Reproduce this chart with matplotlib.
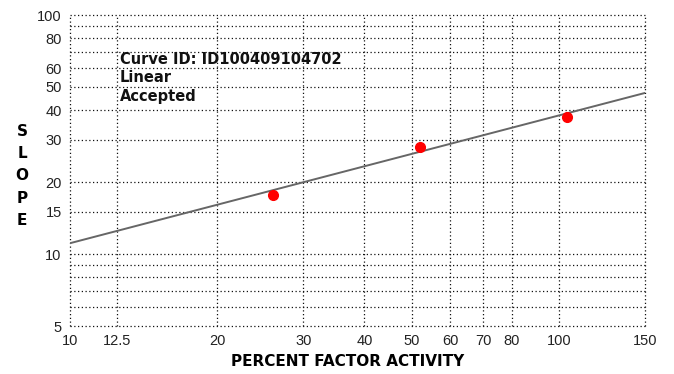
import numpy as np
import matplotlib
matplotlib.use('Agg')
import matplotlib.pyplot as plt
from matplotlib.ticker import FixedLocator, NullFormatter

# data
pct_activity = [26.0, 52.0, 104.0]
slope = [17.7, 28.0, 37.4]
fit_x = [10, 150]
fit_y = [11.1, 47.2]

x_ticks = [10, 12.5, 20, 30, 40, 50, 60, 70, 80, 100, 150]
x_tick_labels = ['10', '12.5', '20', '30', '40', '50', '60', '70', '80', '100', '150']
y_ticks = [5, 10, 15, 20, 30, 40, 50, 60, 80, 100]
y_minor = [6, 7, 8, 9, 70, 90]

info_lines = ['Curve ID: ID100409104702', 'Linear', 'Accepted']

plt.rcParams['font.family'] = ['Liberation Sans', 'DejaVu Sans']

fig = plt.figure(figsize=(6.74, 3.74), dpi=100)
ax = fig.add_axes([70/674, 1 - 326/374, 575/674, 311/374])

ax.set_xscale('log')
ax.set_yscale('log')
ax.set_xlim(10, 150)
ax.set_ylim(5, 100)

ax.xaxis.set_major_locator(FixedLocator(x_ticks))
ax.xaxis.set_minor_locator(FixedLocator([]))
ax.set_xticklabels(x_tick_labels)
ax.xaxis.set_minor_formatter(NullFormatter())
ax.yaxis.set_major_locator(FixedLocator(y_ticks))
ax.set_yticklabels([str(v) for v in y_ticks])
ax.yaxis.set_minor_locator(FixedLocator(y_minor))
ax.yaxis.set_minor_formatter(NullFormatter())

dot = (0, (1, 2))
ax.grid(True, which='major', color='#111111', linestyle=dot, linewidth=0.9)
ax.grid(True, which='minor', axis='y', color='#111111', linestyle=dot, linewidth=0.9)
for s in ax.spines.values():
    s.set_visible(False)
ax.tick_params(which='both', length=0, labelsize=10.5, colors='#222222')
ax.tick_params(axis='x', pad=6)
ax.tick_params(axis='y', pad=6)

ax.plot(fit_x, fit_y, color='#666666', linewidth=1.4, zorder=3)
ax.plot(pct_activity, slope, 'o', color='#ff0000', markersize=7, zorder=4)

bold = ['DejaVu Sans']
for i, line in enumerate(info_lines):
    fig.text(120/674, 1 - (60 + i * 18)/374, line, fontsize=10.5, family=bold,
             fontweight='bold', va='center', ha='left', color='#111111')

fig.text(348/674, 1 - 362/374, 'PERCENT FACTOR ACTIVITY',
         ha='center', va='center', fontsize=11, fontweight='bold', family=bold)
fig.text(22/674, 1 - 176/374, '\n'.join('SLOPE'), ha='center', va='center',
         fontsize=11, fontweight='bold', linespacing=1.6, family=bold)

# keep the border gridlines fully visible
fig.canvas.draw()
for t in ax.xaxis.get_major_ticks() + ax.yaxis.get_major_ticks() + ax.yaxis.get_minor_ticks():
    t.gridline.set_clip_on(False)

fig.savefig('out.png', dpi=100)
